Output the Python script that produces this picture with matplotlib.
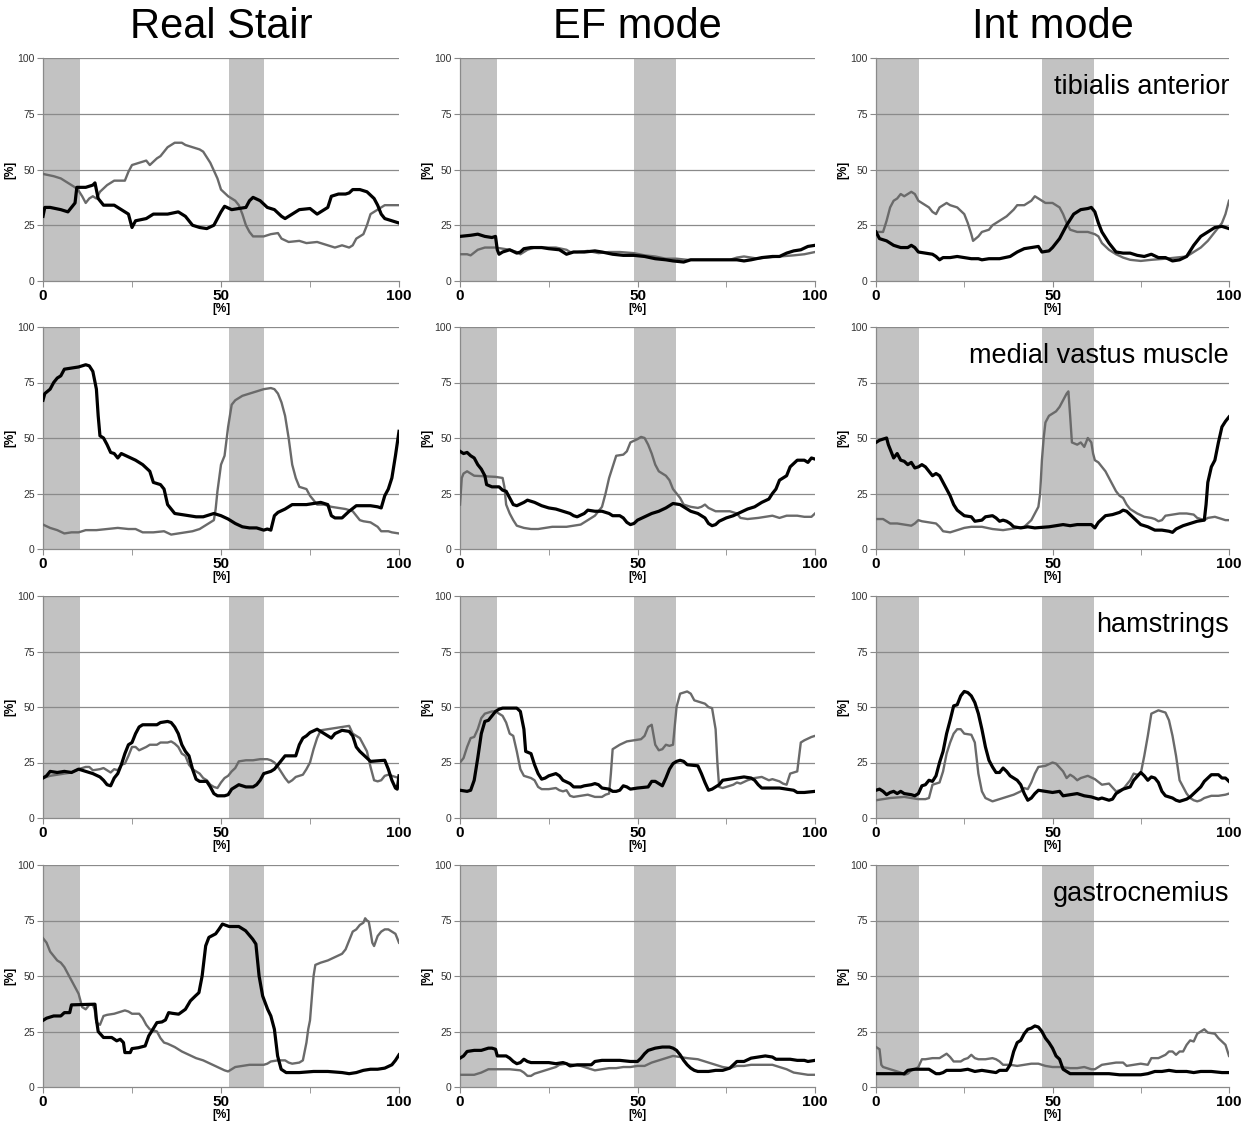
import matplotlib.pyplot as plt

plt.rcParams['font.family'] = ['Liberation Sans', 'DejaVu Sans']

columns = ['Real Stair', 'EF mode', 'Int mode']
muscles = ['tibialis anterior', 'medial vastus muscle', 'hamstrings', 'gastrocnemius']

# shaded phases (start, end) in % of the cycle, per column
phases_stair = [(0, 10.4), (52.2, 62)]
phases_ef = [(0, 10.4), (49, 60.8)]
phases_int = [(0, 12.2), (47, 61.8)]

# ---- tibialis anterior ----
rs_ta_black = [(0, 29), (0.5, 33), (2, 33), (5, 32), (7, 31), (8, 33), (9, 35), (9.5, 42), (12, 42), (14, 43),
               (14.6, 44), (15.5, 37), (17, 34), (20, 34), (22, 32), (24, 30), (25, 24), (26, 27), (29, 28),
               (31, 30), (35, 30), (38, 31), (40, 29), (42, 25), (44, 24), (46, 23.5), (48, 25), (49, 28),
               (50, 31), (51, 33.5), (53, 32), (55, 32.5), (57, 33), (58, 36), (59, 37.5), (61, 36), (63, 33),
               (65, 32), (67, 29), (68, 28), (70, 30), (72, 32), (75, 32.5), (77, 30), (78, 31), (80, 33),
               (81, 38), (83, 39), (85, 39), (86, 39.5), (87, 41), (89, 41), (91, 40), (93, 37), (94, 34),
               (95, 30), (96, 28), (98, 27), (100, 26)]
rs_ta_gray = [(0, 48), (3, 47), (5, 46), (7, 44), (9, 42), (10, 40.5), (11, 38), (12, 35), (13, 37), (14, 38),
              (15, 37), (16, 40), (18, 43), (20, 45), (23, 45), (24, 49), (25, 52), (27, 53), (29, 54), (30, 52),
              (32, 55), (33, 56), (35, 60), (37, 62), (39, 62), (40, 61), (42, 60), (44, 59), (45, 58), (47, 53),
              (49, 46), (50, 41), (52, 38), (54, 36), (55, 34), (56, 30), (57, 25), (58, 22), (59, 20), (62, 20),
              (64, 21), (66, 21.5), (67, 19), (69, 17.5), (72, 18), (74, 17), (77, 17.5), (80, 16), (82, 15),
              (84, 16), (86, 15), (87, 16), (88, 19), (89, 20), (90, 21), (91, 25), (92, 30), (94, 32),
              (96, 34), (100, 34)]
ef_ta_black = [(0, 20), (3, 20.5), (5, 21), (7, 20), (9, 19.5), (10, 20), (10.5, 14), (11, 12), (12, 13),
               (14, 14), (16, 12.5), (17, 13), (18, 14.5), (20, 15), (23, 15), (25, 14.5), (28, 14), (30, 12),
               (32, 13), (35, 13), (38, 13.5), (40, 13), (43, 12), (46, 11.5), (49, 11.5), (52, 11), (55, 10),
               (58, 9.5), (60, 9), (63, 8.5), (65, 9.5), (68, 9.5), (72, 9.5), (78, 9.5), (80, 9), (82, 9.5),
               (85, 10.5), (88, 11), (90, 11), (92, 12.5), (94, 13.5), (96, 14), (98, 15.5), (100, 16)]
ef_ta_gray = [(0, 12), (2, 12), (3, 11.5), (5, 14), (7, 15), (10, 15), (12, 14.5), (14, 14), (16, 13), (17, 12),
              (19, 14), (21, 15), (27, 15), (30, 14), (31, 13), (33, 13), (36, 13.5), (39, 12.5), (42, 13),
              (45, 13), (49, 12.5), (52, 11.5), (55, 11), (58, 10), (61, 10), (64, 9.5), (76, 9.5), (78, 10.5),
              (80, 11), (82, 10.5), (84, 10), (86, 10.5), (90, 11), (94, 11.5), (97, 12), (100, 13)]
int_ta_black = [(0, 22), (1, 19), (3, 18), (5, 16), (7, 15), (9, 15), (10, 16), (11, 15), (12, 13), (14, 12.5),
                (16, 12), (17, 11), (18, 9.5), (19, 10.5), (21, 10.5), (23, 11), (25, 10.5), (27, 10), (29, 10),
                (30, 9.5), (32, 10), (35, 10), (38, 11), (40, 13), (42, 14.5), (44, 15), (46, 15.5), (47, 13),
                (49, 13.5), (50, 15), (52, 19), (54, 25), (56, 30), (58, 32), (60, 32.5), (61, 33), (62, 31),
                (63, 26), (64, 22), (66, 17), (68, 13), (70, 12.5), (72, 12.5), (74, 11.5), (76, 11), (78, 12),
                (80, 10.5), (82, 10.5), (84, 9), (86, 9.5), (88, 11), (90, 16), (92, 20), (94, 22), (96, 24),
                (98, 24.5), (100, 23.5)]
int_ta_gray = [(0, 22), (2, 22), (3, 27), (4, 33), (5, 36), (6, 37), (7, 39), (8, 38), (10, 40), (11, 39), (12, 36),
               (13, 35), (15, 33), (16, 31), (17, 30), (18, 33), (19, 34), (20, 35), (21, 34), (23, 33), (25, 30),
               (26, 26), (27, 21), (27.5, 18), (29, 20), (30, 22), (32, 23), (33, 25), (35, 27), (37, 29),
               (39, 32), (40, 34), (42, 34), (44, 36), (45, 38), (46, 37), (48, 35), (50, 35), (52, 33), (53, 30),
               (54, 26), (55, 23), (57, 22), (60, 22), (62, 21), (63, 20), (64, 17), (66, 14), (68, 12),
               (70, 10.5), (72, 9.5), (75, 9), (78, 9.5), (82, 10), (85, 10.5), (88, 11), (90, 13), (92, 15),
               (94, 18), (96, 22), (98, 26), (99, 30), (100, 36)]

# ---- medial vastus muscle ----
rs_vm_black = [(0, 67), (0.5, 70), (2, 72), (3, 75), (4, 77), (5, 78), (6, 81), (8, 81.5), (10, 82), (12, 83),
               (13, 82.5), (14, 80), (15, 72), (15.5, 60), (16, 51), (17, 50), (18, 47), (19, 43.5), (20, 43),
               (21, 41), (22, 43), (24, 41.5), (26, 40), (28, 38), (30, 35), (31, 30), (33, 29), (34, 27),
               (35, 20), (36, 18), (37, 16), (39, 15.5), (41, 15), (43, 14.5), (45, 14.5), (47, 15.5), (48, 16),
               (50, 15), (52, 13.5), (54, 11.5), (56, 10), (58, 9.5), (60, 9.5), (62, 8.5), (63, 9), (64, 8.5),
               (65, 15), (66, 16.5), (68, 18), (70, 20), (74, 20), (76, 20.5), (78, 21), (80, 20), (81, 15),
               (82, 14), (84, 14), (86, 17), (88, 19.5), (92, 19.5), (94, 19), (95, 18.5), (96, 24), (97, 27),
               (98, 32), (99, 42), (100, 53)]
rs_vm_gray = [(0, 11), (2, 9.5), (4, 8.5), (6, 7), (8, 7.5), (10, 7.5), (12, 8.5), (15, 8.5), (18, 9), (21, 9.5),
              (24, 9), (26, 9), (28, 7.5), (31, 7.5), (34, 8), (36, 6.5), (38, 7), (40, 7.5), (42, 8), (44, 9),
              (46, 11), (47, 12), (48, 13), (48.5, 18), (49, 26), (49.5, 32), (50, 38), (51, 42), (52, 55),
              (53, 65), (54, 67), (56, 69), (58, 70), (60, 71), (62, 72), (64, 72.5), (65, 72), (66, 70),
              (67, 66), (68, 60), (69, 50), (70, 38), (71, 32), (72, 28), (74, 27), (75, 24), (76, 22), (77, 20),
              (79, 20), (81, 19), (83, 18.5), (85, 18), (87, 17), (89, 13), (90, 12.5), (92, 12), (94, 10),
              (95, 8), (97, 8), (98, 7.5), (100, 7)]
ef_vm_black = [(0, 44), (1, 43), (2, 43.5), (3, 42), (4, 41), (5, 38), (6, 36), (7, 33), (7.5, 29), (9, 28),
               (11, 28), (12, 26.5), (13, 26), (14, 23), (15, 20), (16, 19.5), (18, 21), (19, 22), (21, 21),
               (23, 19.5), (25, 18.5), (27, 18), (29, 17), (31, 16), (32, 15), (33, 14.5), (35, 16), (36, 17.5),
               (38, 17), (40, 17), (42, 16), (43, 15), (45, 15), (46, 14), (47, 12), (48, 11), (49, 11.5),
               (50, 13), (52, 14.5), (54, 16), (56, 17), (58, 18.5), (60, 20.5), (62, 20), (63, 19), (65, 17),
               (67, 16), (69, 14), (70, 11.5), (71, 10.5), (72, 11), (73, 12.5), (75, 14), (77, 15), (79, 16.5),
               (81, 18), (83, 19), (85, 21), (87, 22.5), (88, 25), (89, 27), (90, 31), (91, 32), (92, 33),
               (93, 37), (95, 40), (97, 40), (98, 39), (99, 41), (100, 40.5)]
ef_vm_gray = [(0, 20), (0.5, 32), (1, 34), (2, 35), (3, 34), (4, 33), (10, 32.5), (12, 32), (12.5, 28), (13, 20),
              (14, 16), (15, 13), (16, 10.5), (18, 9.5), (20, 9), (22, 9), (24, 9.5), (26, 10), (30, 10),
              (32, 10.5), (34, 11), (36, 13), (38, 15), (40, 19), (41, 25), (42, 32), (43, 37), (44, 42),
              (46, 42.5), (47, 44), (48, 48), (50, 49.5), (51, 50.5), (52, 50), (53, 47), (54, 43), (55, 38),
              (56, 35), (58, 33), (59, 31), (60, 27), (61, 25), (62, 23), (63, 20), (65, 19), (67, 18.5),
              (68, 19), (69, 20), (70, 18.5), (72, 17), (76, 17), (78, 16), (79, 14), (81, 13.5), (84, 14),
              (86, 14.5), (88, 15), (90, 14), (92, 15), (95, 15), (97, 14.5), (99, 14.5), (100, 16)]
int_vm_black = [(0, 48), (1, 49), (2, 49.5), (3, 50), (3.5, 47), (4, 45), (5, 41), (6, 43), (7, 40), (8, 39.5),
                (9, 38), (10, 39), (11, 36.5), (12, 37), (13, 38), (14, 37), (15, 35), (16, 33), (17, 34),
                (18, 33), (19, 30), (20, 27), (21, 24), (22, 20), (23, 17.5), (25, 15), (27, 14.5), (28, 12.5),
                (30, 13), (31, 14.5), (33, 15), (34, 14), (35, 12.5), (36, 13), (37, 12.5), (38, 11.5), (39, 10),
                (41, 9.5), (43, 10), (45, 9.5), (49, 10), (51, 10.5), (53, 11), (55, 10.5), (57, 11), (61, 11),
                (62, 9.5), (63, 12), (65, 15), (67, 15.5), (69, 16.5), (70, 17.5), (71, 17), (73, 14), (75, 11),
                (77, 10), (79, 8.5), (81, 8.5), (83, 8), (84, 7.5), (85, 9), (87, 10.5), (89, 11.5), (91, 12.5),
                (93, 13), (93.5, 20), (94, 30), (95, 37), (96, 40), (97, 48), (98, 55), (99, 57.5), (100, 59.5)]
int_vm_gray = [(0, 13.5), (2, 13.5), (3, 12.5), (4, 11.5), (6, 11.5), (8, 11), (10, 10.5), (11, 11.5), (12, 13),
               (13, 12.5), (15, 12), (17, 11.5), (18, 10), (19, 8), (21, 7.5), (23, 8.5), (25, 9.5), (27, 10),
               (30, 10), (33, 9), (36, 8.5), (38, 9), (40, 9.5), (42, 10), (43, 11.5), (44, 13), (45, 16),
               (46, 19), (46.5, 25), (47, 40), (47.5, 50), (48, 57), (49, 60), (50, 61), (51, 62), (52, 64),
               (53, 67), (54, 70), (54.5, 71), (55, 60), (55.5, 48), (57, 47), (58, 48), (59, 46), (60, 50),
               (61, 48), (61.5, 43), (62, 40), (63, 39), (64, 37), (65, 35), (66, 32), (67, 29), (68, 26),
               (69, 24), (70, 23), (71, 20), (72, 18), (74, 16), (76, 14.5), (78, 14), (79, 13.5), (80, 12.5),
               (81, 13), (82, 15), (84, 15.5), (86, 16), (88, 16), (90, 15.5), (91, 14), (92, 13.5), (93, 13),
               (94, 14), (96, 14.5), (98, 13.5), (99, 13), (100, 13)]

# ---- hamstrings ----
rs_hs_black = [(0, 18), (1, 19), (2, 21), (4, 20.5), (6, 21), (8, 20.5), (10, 22), (12, 21), (14, 20),
               (16, 18.5), (17, 17), (18, 15), (19, 14.5), (20, 18), (21, 20), (22, 24), (23, 29), (24, 33),
               (25, 34), (26, 38), (27, 41), (28, 42), (32, 42), (33, 43), (35, 43.5), (36, 43), (37, 41),
               (38, 38), (39, 33), (40, 30), (41, 28), (42, 22), (43, 17.5), (44, 16.5), (46, 16.5), (47, 14),
               (48, 11), (49, 10), (51, 10), (52, 10.5), (53, 13), (54, 14), (55, 15), (56, 14.5), (57, 14),
               (59, 14), (60, 15), (61, 17), (62, 20), (64, 21), (65, 22), (66, 24), (67, 26), (68, 28),
               (71, 28), (72, 33), (73, 36), (74, 37), (75, 38.5), (77, 40), (78, 39), (79, 38), (80, 37),
               (81, 36), (82, 38), (84, 39.5), (86, 39), (87, 37), (88, 32), (89, 30), (91, 27), (92, 25.5),
               (96, 26), (97, 22), (98, 17), (99, 13.5), (99.5, 13), (100, 19)]
rs_hs_gray = [(0, 18), (2, 19), (4, 19.5), (6, 20), (8, 20.5), (10, 22), (12, 23), (13, 23), (14, 21.5),
              (16, 22), (17, 22.5), (19, 20.5), (20, 22), (21, 21.5), (22, 24), (23, 24.5), (24, 28), (25, 32),
              (26, 32), (27, 30.5), (29, 32), (30, 33), (32, 33), (33, 34), (35, 34), (36, 34.5), (37, 33.5),
              (38, 32), (39, 29), (40, 28), (41, 24), (42, 22), (44, 20), (45, 18), (46, 17), (47, 15),
              (48, 14), (49, 13.5), (50, 16), (51, 18), (52, 19), (53, 21), (54, 22.5), (55, 25.5), (57, 26),
              (59, 26), (61, 26.5), (63, 26.5), (64, 26), (65, 25), (66, 23), (67, 20.5), (68, 18), (69, 16),
              (70, 17), (71, 18.5), (72, 19), (73, 19.5), (74, 22), (75, 25), (76, 31), (77, 36), (78, 39.5),
              (80, 40), (82, 40.5), (84, 41), (86, 41.5), (87, 38), (88, 37), (89, 36), (90, 33), (91, 30),
              (92, 23), (93, 17), (94, 16.5), (95, 17), (96, 19), (97, 19.5), (98, 19), (99, 18.5), (100, 18)]
ef_hs_black = [(0, 12.5), (2, 12), (3, 12.5), (4, 17), (5, 27), (6, 38), (7, 43.5), (8, 44), (9, 46), (10, 48),
               (11, 49), (12, 49.5), (16, 49.5), (17, 48), (18, 40), (18.5, 30), (20, 29), (21, 24), (22, 20),
               (23, 17.5), (24, 18), (25, 19), (26, 19.5), (27, 20), (28, 19), (29, 17), (31, 15.5), (32, 14),
               (34, 14), (35, 14.5), (37, 15), (38, 15.5), (39, 15), (40, 13.5), (42, 13), (43, 12), (44, 12),
               (45, 12.5), (46, 14.5), (47, 14), (48, 13), (50, 13.5), (53, 14), (54, 16.5), (55, 16.5),
               (56, 15.5), (57, 14.5), (58, 18), (59, 22), (60, 24.5), (61, 25.5), (62, 26), (63, 25.5),
               (64, 24), (67, 23.5), (68, 20), (69, 16), (70, 12.5), (71, 13), (72, 14), (73, 15), (74, 17),
               (76, 17.5), (78, 18), (80, 18.5), (82, 18), (83, 17), (84, 15), (85, 13.5), (90, 13.5), (92, 13),
               (94, 12.5), (95, 11.5), (97, 11.5), (100, 12)]
ef_hs_gray = [(0, 25), (1, 27), (2, 32), (3, 36), (4, 36.5), (5, 40), (6, 45), (7, 47), (9, 48), (10, 48),
              (11, 47), (12, 46), (13, 43), (14, 38), (15, 37), (16, 30), (17, 22), (18, 19), (20, 18), (21, 17),
              (22, 14), (23, 13), (25, 13), (27, 13.5), (28, 12.5), (29, 12), (30, 12.5), (31, 10), (32, 9.5),
              (34, 10), (36, 10.5), (37, 10), (38, 9.5), (40, 9.5), (41, 10.5), (42, 11), (42.5, 20), (43, 31),
              (44, 32), (45, 33), (47, 34.5), (49, 35), (51, 35.5), (52, 37), (53, 41), (54, 42), (55, 33),
              (56, 30.5), (57, 31), (58, 33), (59, 32.5), (60, 33), (61, 50), (62, 56), (64, 57), (65, 56),
              (66, 53), (68, 52), (69, 51.5), (70, 50), (71, 49.5), (72, 40), (72.5, 25), (73, 14), (74, 13.5),
              (75, 14), (77, 15), (78, 16), (79, 15.5), (81, 17), (83, 18), (85, 18.5), (87, 17), (88, 17.5),
              (90, 16.5), (91, 15.5), (92, 15), (93, 20), (95, 21), (96, 34), (97, 35), (99, 36.5), (100, 37)]
int_hs_black = [(0, 12.5), (1, 13), (2, 12), (3, 10.5), (4, 11.5), (5, 12), (6, 11), (7, 12), (8, 11),
                (10, 10.5), (11, 10), (12, 11), (13, 14.5), (14, 15), (15, 17), (16, 16.5), (17, 19), (18, 25),
                (19, 30), (20, 38), (21, 44), (22, 50.5), (23, 51), (24, 55), (25, 57), (26, 56.5), (27, 55),
                (28, 52), (29, 47), (30, 40), (31, 32), (32, 26), (33, 23), (34, 20.5), (35, 20.5), (36, 22.5),
                (37, 21), (38, 19), (39, 18), (40, 17), (41, 15), (42, 11), (43, 8), (44, 9), (45, 11),
                (46, 12.5), (48, 12), (50, 11.5), (52, 12), (53, 10), (55, 10.5), (57, 11), (59, 10),
                (61, 9.5), (63, 8.5), (64, 9), (66, 8), (67, 8.5), (68, 11), (70, 13), (72, 14), (73, 17),
                (75, 20.5), (76, 19), (77, 17), (78, 18.5), (79, 18), (80, 16), (81, 12), (82, 10), (84, 9),
                (85, 8), (86, 7.5), (88, 8.5), (89, 9.5), (90, 11), (92, 14), (93, 16.5), (94, 18), (95, 19.5),
                (97, 19.5), (98, 18), (99, 18), (100, 16.5)]
int_hs_gray = [(0, 8), (2, 8.5), (4, 9), (8, 9.5), (10, 9), (12, 8.5), (14, 8.5), (15, 9), (16, 15), (17, 15.5),
               (18, 16), (19, 21), (20, 29), (21, 34), (22, 38), (23, 40), (24, 40), (25, 38), (27, 37.5),
               (28, 34), (29, 20), (30, 12), (31, 9), (33, 7.5), (35, 8.5), (37, 9.5), (39, 10.5), (41, 12),
               (42, 13.5), (43, 13), (44, 16), (45, 20), (46, 23), (48, 23.5), (50, 25), (51, 24.5), (53, 21),
               (54, 18), (55, 19.5), (56, 18.5), (57, 17), (58, 18), (60, 19), (62, 17.5), (64, 15),
               (66, 15.5), (68, 12), (70, 13), (72, 17), (73, 20), (74, 19.5), (75, 20), (76, 28), (77, 37),
               (78, 47), (80, 48.5), (81, 48), (82, 47.5), (83, 44), (84, 37), (85, 28), (86, 17), (87, 14),
               (88, 11), (89, 9), (90, 8), (91, 7.5), (92, 8), (93, 9), (95, 10), (97, 10), (99, 10.5),
               (100, 11)]

# ---- gastrocnemius ----
rs_gc_black = [(0, 30), (1, 31), (3, 32), (5, 32), (6, 33.5), (7.5, 33.5), (8, 37), (14.6, 37.3), (15, 30.5),
               (15.5, 25), (17, 22.3), (19.3, 22.3), (20.7, 20.8), (21.7, 21.5), (22.6, 20), (23, 15.5),
               (24.5, 15.5), (25, 17.3), (26.8, 17.7), (28.7, 18.5), (29.7, 23), (30.6, 25.3), (32, 29),
               (33.4, 29.3), (34.4, 30.2), (35.3, 33.5), (36.3, 33.2), (38.1, 32.8), (40, 35), (41.4, 38.8),
               (42.8, 41), (43.8, 42.5), (44.7, 50), (45.7, 63.6), (46.6, 67.4), (48.5, 69), (49.4, 71),
               (50.4, 73.4), (52.3, 72.3), (55, 72.3), (56.9, 70.4), (58.9, 66.6), (59.8, 64.4), (60.7, 50),
               (61.7, 41), (63.1, 35), (64, 32), (65, 26), (65.9, 14), (66.9, 8), (68.3, 6.5), (72, 6.5),
               (76, 7), (80, 7), (84, 6.5), (86, 6), (88, 6.5), (90, 7.5), (92, 8), (94, 8), (96, 8.5),
               (98, 10), (99, 12), (100, 14.5)]
rs_gc_gray = [(0, 67), (1, 65), (2, 61), (3, 59), (4, 57), (5, 56), (6, 54), (7, 51), (8, 48), (9, 45), (10, 42),
              (11, 36), (12, 35), (13, 37), (14, 37), (14.5, 35), (15, 29), (16, 28), (17, 32), (18, 32.5),
              (20, 33), (22, 34), (23, 34.5), (24, 34), (25, 33), (27, 33), (28, 31), (29, 28), (30, 26),
              (32, 25), (33, 22), (34, 20), (35, 19.5), (37, 18), (39, 16), (41, 14.5), (43, 13), (45, 12),
              (47, 10.5), (49, 9), (51, 7.5), (52, 7), (53, 8), (54, 9), (56, 9.5), (58, 10), (62, 10),
              (63, 10.5), (64, 11.5), (66, 12), (68, 12), (69, 11), (70, 10.5), (72, 11), (73, 12), (74, 20),
              (74.5, 26), (75, 30), (76, 50), (76.5, 55), (78, 56), (80, 57), (82, 58.5), (84, 60), (85, 62),
              (86, 66), (87, 70), (88, 71), (89, 73), (90, 74), (90.5, 76), (91, 75), (91.5, 74.5), (92, 70),
              (92.5, 65), (93, 63.5), (94, 68), (95, 70), (96, 71), (97, 71), (98, 70), (99, 69), (100, 65)]
ef_gc_black = [(0, 13), (1, 14), (2, 16), (4, 16.5), (6, 16.5), (8, 17.5), (9, 17.5), (10, 17), (10.5, 14),
               (13, 14), (14, 13), (15, 11.5), (16, 10.5), (17, 11), (18, 12.5), (19, 11.5), (20, 11), (25, 11),
               (27, 10.5), (29, 11), (30, 10.5), (31, 9.5), (33, 10), (37, 10), (38, 11.5), (40, 12), (45, 12),
               (48, 11.5), (50, 11.5), (51, 13), (52, 15), (53, 16.5), (55, 17.5), (57, 18), (59, 18),
               (60, 17.5), (61, 16.5), (62, 14.5), (63, 12), (64, 10), (65, 8.5), (66, 7.5), (67, 7), (70, 7),
               (72, 7.5), (74, 7.5), (76, 8.5), (77, 10), (78, 11.5), (80, 11.5), (82, 13), (84, 13.5),
               (86, 14), (88, 13.5), (89, 12.5), (93, 12.5), (95, 12), (97, 12), (98, 11.5), (100, 12)]
ef_gc_gray = [(0, 5.5), (4, 5.5), (6, 6.5), (8, 8), (14, 8), (17, 7.5), (18, 6.5), (19, 5), (20, 5), (21, 6),
              (23, 7), (25, 8), (27, 9), (28, 10), (30, 10.5), (32, 10), (34, 9.5), (36, 8.5), (38, 7.5),
              (40, 8), (42, 8.5), (44, 8.5), (46, 9), (48, 9), (50, 9.5), (52, 9.5), (54, 11), (56, 12),
              (58, 13), (60, 14), (62, 13.5), (64, 13), (67, 12.5), (70, 11), (72, 10), (74, 9), (76, 8.5),
              (78, 9.5), (80, 9.5), (82, 10), (88, 10), (90, 9), (92, 8), (94, 6.5), (96, 6), (98, 5.5),
              (100, 5.5)]
int_gc_black = [(0, 6), (8, 6), (9, 7.5), (11, 8), (15, 8), (16, 7), (17, 6), (18, 6), (19, 6.5), (20, 7.5),
                (24, 7.5), (26, 8), (28, 7), (30, 7.5), (32, 7), (34, 6.5), (35, 7.5), (37, 7.5), (38, 10),
                (39, 16), (40, 20), (41, 21), (42, 24), (43, 26), (44, 26.5), (45, 27.5), (46, 27), (47, 25),
                (48, 22), (49, 20), (50, 17.5), (51, 14), (52, 12.5), (53, 8), (54, 7), (55, 6), (66, 6),
                (69, 5.5), (75, 5.5), (77, 6), (79, 7), (81, 7), (83, 7.5), (85, 7), (88, 7), (90, 6.5), (92, 7),
                (95, 7), (98, 6.5), (100, 6.5)]
int_gc_gray = [(0, 18), (1, 17), (1.5, 10), (2, 9), (4, 8), (6, 7), (7, 6.5), (8, 5.5), (9, 6), (10, 7.5),
               (11, 8), (12, 9), (13, 12.5), (14, 12.5), (16, 13), (18, 13), (19, 14), (20, 15), (21, 13.5),
               (22, 11.5), (24, 11.5), (25, 12.5), (26, 13), (27, 14.5), (28, 13), (29, 12.5), (31, 12.5),
               (33, 13), (34, 12.5), (35, 11.5), (36, 10), (38, 10), (40, 9.5), (42, 10), (44, 10.5),
               (46, 10.5), (48, 9.5), (50, 9), (52, 9), (55, 8.5), (57, 8.5), (59, 9), (61, 8), (62, 8), (63, 9),
               (64, 10), (66, 10.5), (68, 11), (70, 11), (71, 9.5), (73, 10), (75, 10.5), (77, 10), (78, 13),
               (80, 13), (82, 14.5), (83, 16), (84, 16), (85, 14.5), (86, 16), (87, 16), (88, 19), (89, 21),
               (90, 20.5), (91, 24), (93, 26), (94, 24.5), (96, 24), (97, 22), (98, 20.5), (99, 19), (100, 14)]

grid_data = [
    [(rs_ta_gray, rs_ta_black), (ef_ta_gray, ef_ta_black), (int_ta_gray, int_ta_black)],
    [(rs_vm_gray, rs_vm_black), (ef_vm_gray, ef_vm_black), (int_vm_gray, int_vm_black)],
    [(rs_hs_gray, rs_hs_black), (ef_hs_gray, ef_hs_black), (int_hs_gray, int_hs_black)],
    [(rs_gc_gray, rs_gc_black), (ef_gc_gray, ef_gc_black), (int_gc_gray, int_gc_black)],
]
phases = [phases_stair, phases_ef, phases_int]

W, H = 1246, 1124
col_px = [(43, 399), (460, 815), (876, 1229)]
row_px = [(58, 281), (327, 549), (596, 818), (865, 1087)]

fig = plt.figure(figsize=(W / 100, H / 100), dpi=100)

for r in range(4):
    for c in range(3):
        x0, x1 = col_px[c]
        y0, y1 = row_px[r]
        ax = fig.add_axes([x0 / W, 1 - y1 / H, (x1 - x0) / W, (y1 - y0) / H])
        for a, b in phases[c]:
            ax.axvspan(a, b, color='#c2c2c2', lw=0, zorder=0)
        for yv in (25, 50, 75, 100):
            ax.axhline(yv, color='#8a8a8a', lw=0.9, zorder=1)
        gray, black = grid_data[r][c]
        ax.plot([p[0] for p in gray], [p[1] for p in gray], color='#6a6a6a', lw=1.7, zorder=3)
        ax.plot([p[0] for p in black], [p[1] for p in black], color='black', lw=2.3, zorder=4)

        ax.set_xlim(0, 100)
        ax.set_ylim(0, 100)
        ax.set_xticks([0, 50, 100])
        ax.set_xticks([25, 75], minor=True)
        ax.set_yticks([0, 25, 50, 75, 100])
        ax.tick_params(axis='x', which='both', length=4, color='#8a8a8a', pad=2,
                       labelsize=11)
        for lbl in ax.get_xticklabels():
            lbl.set_fontweight('bold')
        ax.tick_params(axis='y', length=4, color='#8a8a8a', pad=2, labelsize=7.5, labelcolor='#333333')
        for s in ('top', 'right'):
            ax.spines[s].set_visible(False)
        for s in ('left', 'bottom'):
            ax.spines[s].set_color('#8a8a8a')
            ax.spines[s].set_linewidth(0.9)
        ax.set_xlabel('[%]', fontsize=8.5, fontweight='bold', labelpad=0)
        ax.set_ylabel('[%]', fontsize=8.5, fontweight='bold', labelpad=-2)
        ax.yaxis.set_label_coords(-0.075, 0.5)

        if r == 0:
            ax.text(0.5, 1 + 31 / (y1 - y0), columns[c], transform=ax.transAxes,
                    ha='center', va='center', fontsize=30)
        if c == 2:
            ax.text(1.0, 0.87, muscles[r], transform=ax.transAxes,
                    ha='right', va='center', fontsize=19.5, zorder=5)

fig.savefig('out.png', dpi=100)
